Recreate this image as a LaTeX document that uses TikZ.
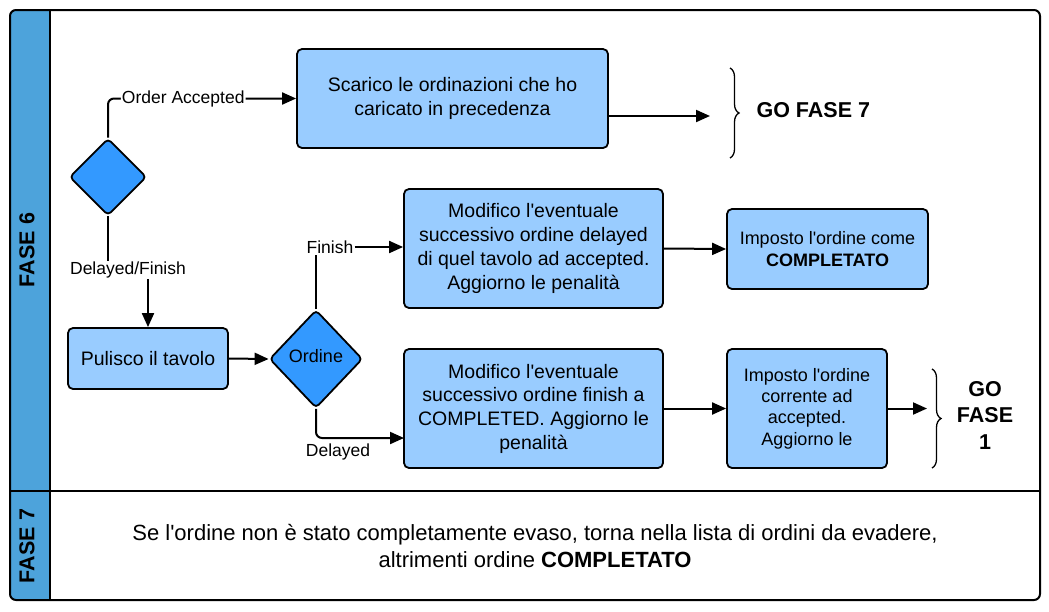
\documentclass[tikz,border=0pt]{standalone}
\usepackage{fontspec}
\setmainfont{Liberation Sans}
\usetikzlibrary{shapes.geometric,arrows.meta,decorations.pathreplacing,calc}
\definecolor{band}{HTML}{4DA3DB}
\definecolor{boxblue}{HTML}{99CCFF}
\definecolor{diablue}{HTML}{3399FF}
\newcommand{\aq}{\textquotesingle}
\begin{document}
\begin{tikzpicture}[x=1pt,y=-1pt,
  proc/.style={draw, line width=1.8pt, fill=boxblue, rounded corners=5pt, align=center, inner sep=0pt, font=\fontsize{19.5}{23.7}\selectfont},
  procs/.style={proc, font=\fontsize{18}{21.3}\selectfont},
  dec/.style={diamond, draw, line width=1.8pt, fill=diablue, rounded corners=4pt, inner sep=0pt},
  conn/.style={line width=2pt},
  arr/.style={conn, -{Triangle[length=14pt,width=12pt]}},
  lbl/.style={font=\fontsize{17.5}{21}\selectfont, inner sep=1pt},
  gotext/.style={font=\bfseries\fontsize{21.5}{26.5}\selectfont, align=center},
  lane/.style={font=\bfseries\fontsize{21.5}{26}\selectfont, rotate=90},
  brc/.style={decorate, decoration={brace, amplitude=9pt}, line width=1.3pt}
]
\useasboundingbox (0,0) rectangle (1049,611);
% frame
\begin{scope}
  \clip[rounded corners=6pt] (10,10) rectangle (1040,600);
  \fill[white] (10,10) rectangle (1040,600);
  \fill[band] (10,10) rectangle (50,600);
\end{scope}
\draw[line width=2pt, rounded corners=6pt] (10,10) rectangle (1040,600);
\draw[line width=2pt] (50,10) -- (50,600);
\draw[line width=2pt] (10,491) -- (1040,491);
\node[lane] (l6) at (27,250) {FASE 6};
\node[lane] (l7) at (27,546) {FASE 7};

% nodes
\node[dec, minimum width=77pt, minimum height=77pt] (d1) at (108,177) {};
\node[proc, minimum width=311pt, minimum height=99pt] (box1) at (452.5,98.5) {Scarico le ordinazioni che ho\\caricato in precedenza};
\node[proc, minimum width=160pt, minimum height=61pt] (pul) at (148,358.5) {Pulisco il tavolo};
\node[dec, minimum width=93pt, minimum height=98pt, font=\fontsize{18}{21}\selectfont] (ord) at (316,359) {\raisebox{6pt}{Ordine}};
\node[proc, minimum width=259pt, minimum height=119pt] (box2) at (533.5,248.5) {Modifico l\aq eventuale\\successivo ordine delayed\\di quel tavolo ad accepted.\\Aggiorno le penalità};
\node[procs, minimum width=201pt, minimum height=80pt] (box3) at (827.5,249) {Imposto l\aq ordine come\\\textbf{COMPLETATO}};
\node[proc, minimum width=259pt, minimum height=119pt] (box4) at (533.5,408.5) {Modifico l\aq eventuale\\successivo ordine finish a\\COMPLETED. Aggiorno le\\penalità};
\node[procs, minimum width=160pt, minimum height=119pt] (box5) at (807,408.5) {Imposto l\aq ordine\\corrente ad\\accepted.\\Aggiorno le};

\node[gotext, anchor=west] (go7) at (753,110) {GO FASE 7};
\node[gotext] (go1) at (985,415) {GO\\FASE\\1};

\coordinate (e1) at (710,116);
\coordinate (e5) at (927,408.5);
\coordinate (din) at (404,438);
\coordinate (b1t) at (730,68);
\coordinate (b1b) at (730,158);
\coordinate (b2t) at (932,369);
\coordinate (b2b) at (932,468);

% labels
\node[lbl] (dfl) at (128,270) {Delayed/Finish};
\node[lbl] (fin) at (330,247) {Finish};
\node[lbl] (del) at (338,452) {Delayed};

% connectors
\draw[arr, rounded corners=6pt] (d1.north) |- node[lbl, fill=white, pos=0.70] {Order Accepted} (box1.west);
\draw[arr] ([yshift=-17.5pt]box1.east) -- (e1);
\draw[conn] (d1.south) -- (d1.south |- dfl.north);
\draw[arr] (dfl.south -| pul.north) -- (pul.north);
\draw[arr] (pul.east) -- (ord.west);
\draw[conn] (ord.north) -- (ord.north |- fin.south);
\draw[arr] (fin.east) -- (fin.east -| box2.west);
\draw[arr, rounded corners=6pt] (ord.south) |- (din);
\draw[arr] (box2.east) -- (box3.west);
\draw[arr] (box4.east) -- (box5.west);
\draw[arr] (box5.east) -- (e5);

% braces
\draw[brc] (b1t) -- (b1b);
\draw[brc] (b2t) -- (b2b);

% FASE 7 text
\node[font=\fontsize{22}{27}\selectfont, align=center] (t7) at (535,546) {Se l\aq ordine non è stato completamente evaso, torna nella lista di ordini da evadere,\\altrimenti ordine \textbf{COMPLETATO}};
\end{tikzpicture}
\end{document}
